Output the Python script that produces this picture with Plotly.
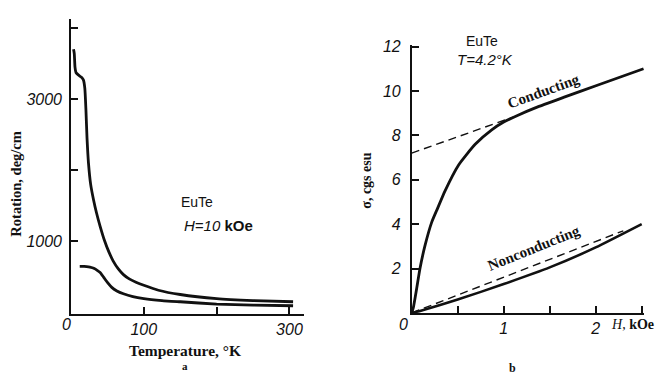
import plotly.graph_objects as go

W, H = 656, 377

# ---- panel a: Faraday rotation vs temperature (EuTe, H = 10 kOe)
temp_upper = [3.5, 4.5, 5.5, 7, 10, 14, 17, 19, 20.5, 22, 24, 27, 31, 35, 40, 46, 52, 58,
              65, 72, 80, 90, 100, 120, 150, 200, 250, 305]
rot_upper = [3700, 3640, 3450, 3370, 3340, 3310, 3270, 3150, 2850, 2450, 2100, 1800, 1580,
             1400, 1210, 1010, 850, 720, 610, 530, 470, 420, 380, 310, 250, 192, 165, 148]
temp_lower = [12, 18, 24, 28, 32, 36, 40, 45, 50, 56, 63, 72, 85, 100, 125, 150, 200, 250, 305]
rot_lower = [645, 645, 640, 630, 615, 590, 560, 490, 420, 350, 300, 260, 220, 192, 165, 148,
             115, 100, 92]
a_xticks = [0, 100, 200, 300]
a_xticktext = ["", "100", "", "300"]
a_yticks = [1000, 2000, 3000, 4000]
a_yticktext = ["1000", "", "3000", ""]

# ---- panel b: magnetization vs field (EuTe, T = 4.2 K)
h_cond = [0, 0.017, 0.054, 0.09, 0.145, 0.217, 0.28, 0.36, 0.51, 0.69, 0.87, 1.0, 1.15,
          1.35, 1.65, 2.01, 2.52]
sig_cond = [0, 0.22, 1.1, 2.0, 3.04, 4.08, 4.7, 5.48, 6.67, 7.6, 8.25, 8.6, 8.9, 9.25, 9.71,
            10.25, 11.0]
h_cond_fit = [0, 1.1]
sig_cond_fit = [7.2, 8.82]
h_noncond = [0, 0.1, 0.5, 1.0, 1.5, 2.0, 2.5]
sig_noncond = [0, 0.1, 0.6, 1.3, 2.05, 2.95, 4.0]
h_noncond_fit = [0, 2.3]
sig_noncond_fit = [0, 3.7]
b_xticks = [0, 0.5, 1, 1.5, 2, 2.5]
b_xticktext = ["", "", "1", "", "2", ""]
b_yticks = [2, 4, 6, 8, 10, 12]
b_yticktext = ["2", "4", "6", "8", "10", "12"]

SANS = "Liberation Sans, Arial, sans-serif"
SERIF = "Liberation Serif, Times New Roman, serif"
INK = "#111"
NUM_FONT = dict(family=SANS, size=16, color=INK)


def italic(labels):
    return [f"<i>{t}</i>" if t else "" for t in labels]


def px(x):
    return x / W


def py(y):
    return 1 - y / H


fig = go.Figure()

thick = dict(color=INK, width=2.8, shape="spline", smoothing=0.5)
dashed = dict(color=INK, width=1.4, dash="8px,5px")

fig.add_trace(go.Scatter(x=temp_upper, y=rot_upper, mode="lines", xaxis="x", yaxis="y",
                         line=thick))
fig.add_trace(go.Scatter(x=temp_lower, y=rot_lower, mode="lines", xaxis="x", yaxis="y",
                         line=thick))

fig.add_trace(go.Scatter(x=h_cond, y=sig_cond, mode="lines", xaxis="x2", yaxis="y2",
                         line=thick))
fig.add_trace(go.Scatter(x=h_cond_fit, y=sig_cond_fit, mode="lines", xaxis="x2", yaxis="y2",
                         line=dashed))
fig.add_trace(go.Scatter(x=h_noncond, y=sig_noncond, mode="lines", xaxis="x2", yaxis="y2",
                         line=dict(thick, width=2.6)))
fig.add_trace(go.Scatter(x=h_noncond_fit, y=sig_noncond_fit, mode="lines", xaxis="x2",
                         yaxis="y2", line=dashed))

axis_common = dict(showgrid=False, zeroline=False, showline=True, linecolor=INK, linewidth=1.6,
                   ticks="inside", tickcolor=INK, tickwidth=1.5, ticklen=7,
                   tickfont=NUM_FONT, mirror=False, tickmode="array")

fig.update_layout(
    width=W, height=H, margin=dict(l=0, r=0, t=0, b=0),
    paper_bgcolor="white", plot_bgcolor="white", showlegend=False,
    xaxis=dict(axis_common, domain=[px(71), px(304)], range=[0, 320], anchor="y",
               tickvals=a_xticks, ticktext=italic(a_xticktext)),
    yaxis=dict(axis_common, domain=[py(313), py(12)], range=[-27, 4130], anchor="x",
               tickvals=a_yticks, ticktext=italic(a_yticktext), ticklabelstandoff=4),
    xaxis2=dict(axis_common, domain=[px(411.7), px(644)], range=[0, 2.525], anchor="y2",
                tickvals=b_xticks, ticktext=italic(b_xticktext)),
    yaxis2=dict(axis_common, domain=[py(311.7), py(39)], range=[0, 12.06], anchor="x2",
                tickvals=b_yticks, ticktext=italic(b_yticktext), ticklabelstandoff=6),
)

ann = []


def note(x, y, text, size=14, family=SERIF, angle=0, xanchor="center", weight="normal"):
    ann.append(dict(x=px(x), y=py(y), xref="paper", yref="paper", text=text, showarrow=False,
                    textangle=angle, xanchor=xanchor, yanchor="middle",
                    font=dict(family=family, size=size, color=INK, weight=weight)))


# origin labels
note(66, 324, "<i>0</i>", size=16, family=SANS)
note(403, 323, "<i>0</i>", size=16, family=SANS)

# panel a texts
note(16, 180, "Rotation, deg/cm", size=14.5, angle=-90, weight="bold")
note(185, 350, "Temperature, °K", size=15.5, weight="bold")
note(185, 366, "a", size=11, weight="bold")
note(197, 199, "EuTe", size=14, family=SANS)
note(218, 223, "<i>H=10</i> <b>kOe</b>", size=15, family=SANS)

# panel b texts
note(367, 177, "σ, cgs esu", size=14, angle=-90, weight="bold")
note(609, 323, "<i>H</i>, <b>kOe</b>", size=14, family=SERIF, xanchor="left")
note(512, 368, "b", size=12, weight="bold")
note(482, 35, "EuTe", size=14, family=SANS)
note(485, 53, "<i>T=4.2°K</i>", size=15, family=SANS)
note(544, 86, "Conducting", size=15, angle=-20, weight="bold")
note(534, 246, "Nonconducting", size=15, angle=-22, weight="bold")

fig.update_layout(annotations=ann)

fig.write_html("out.html")
